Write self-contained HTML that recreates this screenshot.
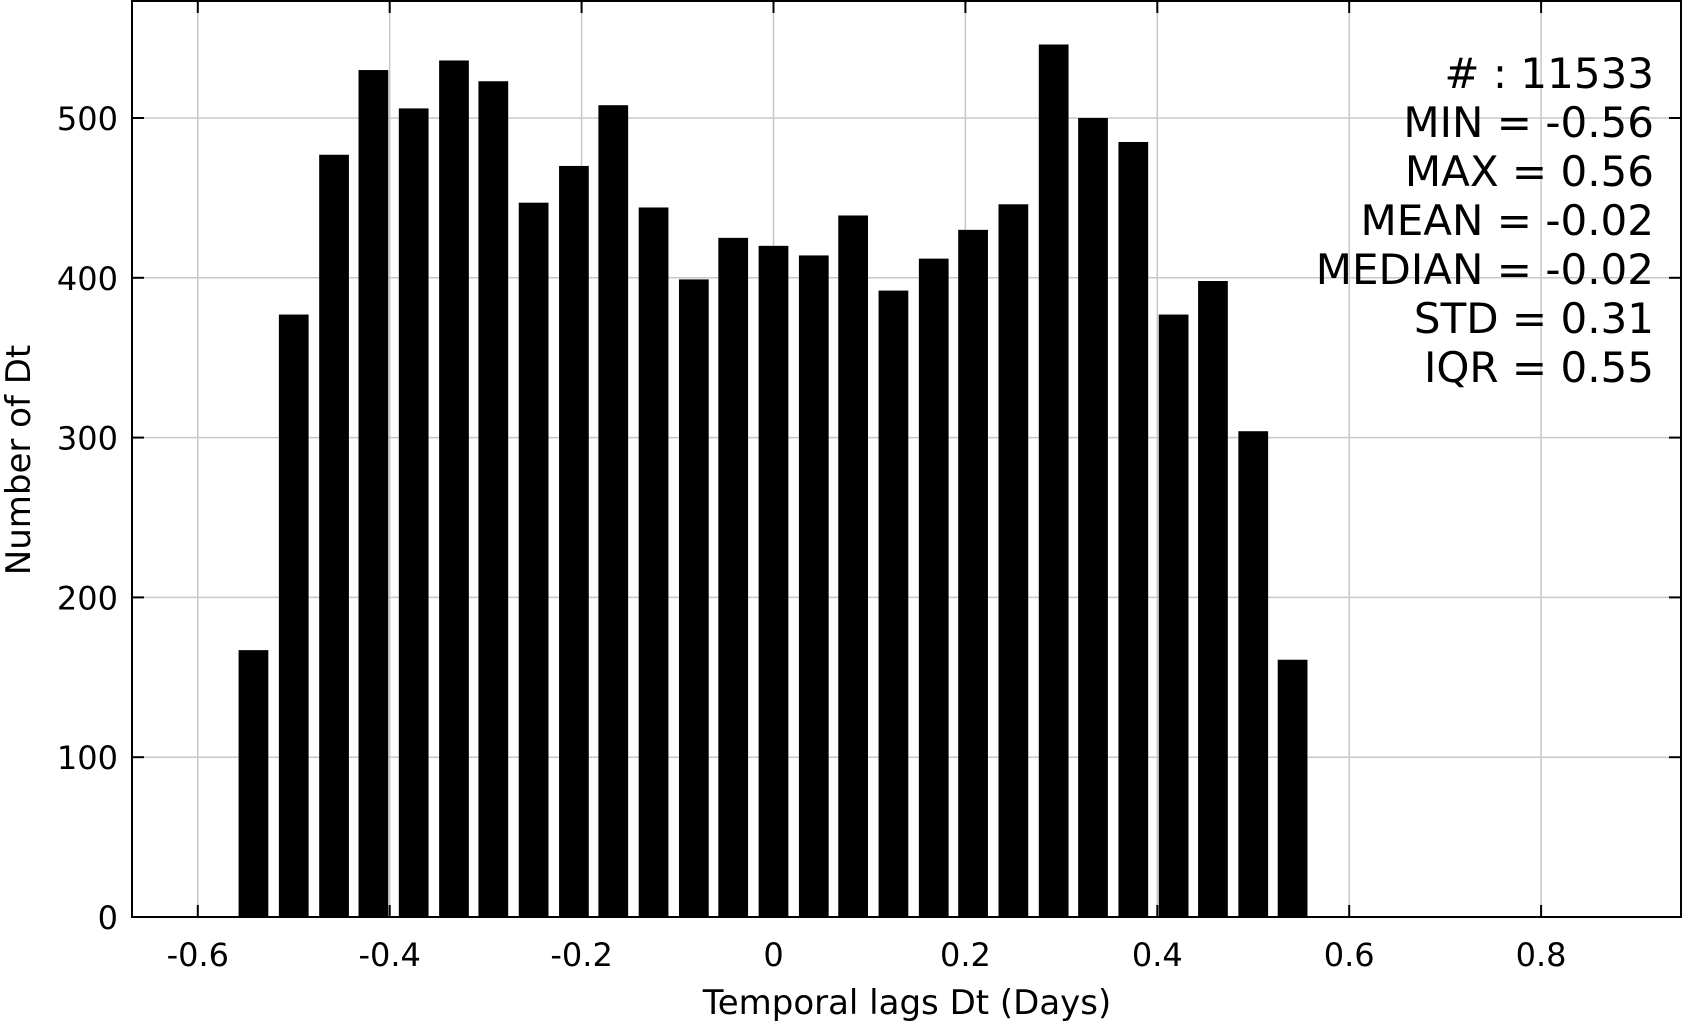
<!DOCTYPE html>
<html><head><meta charset="utf-8"><style>
body{margin:0;background:#fff;}
svg{display:block;font-family:"DejaVu Sans","Liberation Sans",sans-serif;}
</style></head><body>
<svg id="chart" width="1684" height="1025" viewBox="0 0 1684 1025" xmlns="http://www.w3.org/2000/svg">
<g id="grid"></g>
<g id="bars"></g>
<g id="axes"></g>
<g id="stats"></g>
<text x="907" y="1014" font-size="34" text-anchor="middle">Temporal lags Dt (Days)</text>
<text transform="translate(30,460) rotate(-90)" font-size="34" text-anchor="middle">Number of Dt</text>
</svg>
<script>
const binCenters = [-0.542,-0.500,-0.458,-0.417,-0.375,-0.333,-0.292,-0.250,-0.208,-0.167,-0.125,-0.083,-0.042,0.000,0.042,0.083,0.125,0.167,0.208,0.250,0.292,0.333,0.375,0.417,0.458,0.500,0.541];
const counts = [167,377,477,530,506,536,523,447,470,508,444,399,425,420,414,439,392,412,430,446,546,500,485,377,398,304,161];
const xTicks = [-0.6,-0.4,-0.2,0,0.2,0.4,0.6,0.8];
const xTickLabels = ["-0.6","-0.4","-0.2","0","0.2","0.4","0.6","0.8"];
const yTicks = [0,100,200,300,400,500];
const statsLines = ["# : 11533","MIN = -0.56","MAX =  0.56","MEAN = -0.02","MEDIAN = -0.02","STD = 0.31","IQR = 0.55"];
const barWidth = 0.031;

const L=132,R=1681,T=1,B=917;
const x=v=>773.5+v*959.5;
const y=v=>917-v*1.598;
const NS="http://www.w3.org/2000/svg";
function mk(tag,parent,attrs){const e=document.createElementNS(NS,tag);for(const k in attrs)e.setAttribute(k,attrs[k]);parent.appendChild(e);return e;}
const grid=document.getElementById('grid'),bars=document.getElementById('bars'),axes=document.getElementById('axes'),stats=document.getElementById('stats');
xTicks.forEach((t,i)=>{
  const g=mk('line',grid,{x1:x(t),x2:x(t),y1:T,y2:B,stroke:'#c8c8c8','stroke-width':1.5});
  
  
  mk('line',axes,{x1:x(t),x2:x(t),y1:B,y2:B-12,stroke:'#000','stroke-width':2});
  mk('line',axes,{x1:x(t),x2:x(t),y1:T,y2:T+12,stroke:'#000','stroke-width':2});
  const lb=mk('text',axes,{x:x(t),y:966,'font-size':32,'text-anchor':'middle'});
  lb.textContent=xTickLabels[i];
  
  
});
yTicks.forEach(t=>{
  const g=mk('line',grid,{x1:L,x2:R,y1:y(t),y2:y(t),stroke:'#c8c8c8','stroke-width':1.5});
  
  
  mk('line',axes,{x1:L,x2:L+12,y1:y(t),y2:y(t),stroke:'#000','stroke-width':2});
  mk('line',axes,{x1:R-12,x2:R,y1:y(t),y2:y(t),stroke:'#000','stroke-width':2});
  const lb=mk('text',axes,{x:118,y:y(t)+12,'font-size':32,'text-anchor':'end'});
  lb.textContent=String(t);
  
  
});
binCenters.forEach((c,i)=>{
  const w=barWidth*959.5;
  const r=mk('rect',bars,{x:x(c)-w/2,y:y(counts[i]),width:w,height:B-y(counts[i]),fill:'#000'});
  
  
});
const fr=mk('rect',axes,{x:L,y:T,width:R-L,height:B-T,fill:'none',stroke:'#000','stroke-width':2});


statsLines.forEach((s,i)=>{
  const t=mk('text',stats,{x:1654,y:88+i*49,'font-size':42,'text-anchor':'end','xml:space':'preserve'});
  t.textContent=s;
  
  
});
</script>
</body></html>
